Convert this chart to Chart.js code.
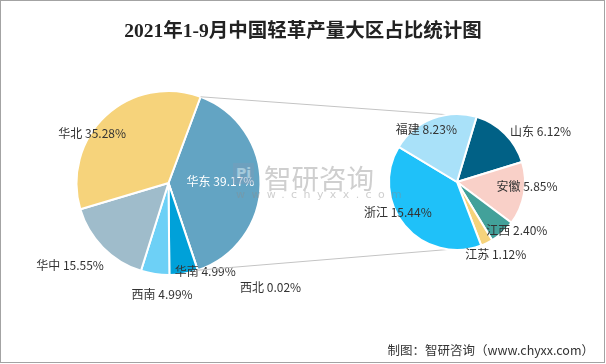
<!DOCTYPE html>
<html>
<head>
<meta charset="utf-8">
<script src="https://cdn.jsdelivr.net/npm/chart.js@4.4.0/dist/chart.umd.min.js"></script>
<style>
    body { margin: 0; background: #fff; }
    #wrap { position: relative; width: 606px; height: 364px; overflow: hidden; }
    #frame { position: absolute; left: 0; top: 0; width: 605px; height: 363px; box-sizing: border-box; border: 1px solid #a3a3a3; }
    canvas { position: absolute; left: 0; top: 0; }
    #title { position: absolute; left: 0; width: 606px; top: 14px; text-align: center;
        font: bold 19.5px "Liberation Serif", "Noto Sans CJK SC", serif; color: #222; }
    #source { position: absolute; right: 12px; top: 340px; font: 12.5px "Noto Sans CJK SC", sans-serif; color: #333; }
    #wm { position: absolute; left: 233px; top: 161px; opacity: 0.42; pointer-events: none; }
    #wm .logo { position: absolute; left: 0; top: 2px; width: 21px; height: 21px; background: #7f9bb8;
        color: #fff; font: bold 14px "DejaVu Sans", sans-serif; text-align: center; line-height: 21px; }
    #wm .name { position: absolute; left: 31px; top: -4px; font: 27.5px "Noto Sans CJK SC", sans-serif; color: #8c8c8c; white-space: nowrap; }
    #wm .url { position: absolute; left: 3px; top: 27px; font: 11px "DejaVu Sans", sans-serif; color: #8c8c8c; letter-spacing: 6.4px; white-space: nowrap; }
</style>
</head>
<body>
<div id="wrap">
    <canvas id="leftPie" width="606" height="364"></canvas>
    <canvas id="rightPie" width="606" height="364"></canvas>
    <div id="wm"><div class="logo">Pi</div><div class="name">智研咨询</div><div class="url">www.chyxx.com</div></div>
    <div id="title">2021年1-9月中国轻革产量大区占比统计图</div>
    <div id="source">制图：智研咨询（www.chyxx.com）</div>
    <div id="frame"></div>
</div>
<script>
// Data
const regions = ['华东', '西北', '华南', '西南', '华中', '华北'];
const regionShare = [39.17, 0.02, 4.99, 4.99, 15.55, 35.28];
const provinces = ['山东', '安徽', '江西', '江苏', '浙江', '福建'];
const provinceShare = [6.12, 5.85, 2.40, 1.12, 15.44, 8.23];

const regionColors = ['#63a4c3', '#1f5f8b', '#00a1d9', '#6dd0f6', '#9fbccb', '#f6d37b'];
const provinceColors = ['#016186', '#f9d0c8', '#42a19a', '#f6d37b', '#1fc1f9', '#a9e1f9'];

// label centre offsets, as a fraction of the radius
const regionLabelPos = [[0.565, -0.02], [1.11, 1.13], [0.40, 0.96], [-0.07, 1.21], [-1.07, 0.90], [-0.83, -0.54]];
const provinceLabelPos = [[1.23, -0.75], [1.03, 0.06], [0.88, 0.71], [0.57, 1.07], [-0.87, 0.45], [-0.45, -0.77]];

function labelPlugin(posList, whiteIdx) {
    return {
        id: 'sliceLabels',
        afterDatasetsDraw(chart) {
            const ctx = chart.ctx;
            const meta = chart.getDatasetMeta(0);
            const labels = chart.data.labels;
            const values = chart.data.datasets[0].data;
            ctx.save();
            ctx.font = '12px "Noto Sans CJK SC", sans-serif';
            ctx.textAlign = 'center';
            ctx.textBaseline = 'middle';
            meta.data.forEach(function(arc, i) {
                const r = arc.outerRadius;
                const x = arc.x + posList[i][0] * r;
                const y = arc.y + posList[i][1] * r;
                ctx.fillStyle = (i === whiteIdx) ? '#ffffff' : '#333333';
                ctx.fillText(labels[i] + ' ' + values[i].toFixed(2) + '%', x, y);
            });
            ctx.restore();
        }
    };
}

const baseOptions = {
    responsive: false,
    animation: false,
    events: [],
    plugins: { legend: { display: false }, tooltip: { enabled: false } }
};

new Chart(document.getElementById('leftPie'), {
    type: 'pie',
    data: {
        labels: regions,
        datasets: [{ data: regionShare, backgroundColor: regionColors, borderColor: '#ffffff', borderWidth: 2 }]
    },
    options: Object.assign({}, baseOptions, {
        rotation: 20.4,
        layout: { padding: { left: 75, right: 344, top: 90, bottom: 88 } }
    }),
    plugins: [labelPlugin(regionLabelPos, 0)]
});

// connector lines from the 华东 slice to the secondary pie
const connectorPlugin = {
    id: 'connectors',
    beforeDatasetsDraw(chart) {
        const left = Chart.getChart('leftPie');
        const src = left.getDatasetMeta(0).data[0];
        const dst = chart.getDatasetMeta(0).data[0];
        const rot = dst.startAngle;     // top edge of the secondary pie
        const rotBottom = -rot;         // mirrored bottom edge
        const ctx = chart.ctx;
        ctx.save();
        ctx.strokeStyle = '#c4c4c4';
        ctx.lineWidth = 1;
        ctx.beginPath();
        ctx.moveTo(src.x + Math.cos(src.startAngle) * src.outerRadius, src.y + Math.sin(src.startAngle) * src.outerRadius);
        ctx.lineTo(dst.x + Math.cos(rot) * dst.outerRadius, dst.y + Math.sin(rot) * dst.outerRadius);
        ctx.moveTo(src.x + Math.cos(src.endAngle) * src.outerRadius, src.y + Math.sin(src.endAngle) * src.outerRadius);
        ctx.lineTo(dst.x + Math.cos(rotBottom) * dst.outerRadius, dst.y + Math.sin(rotBottom) * dst.outerRadius);
        ctx.stroke();
        ctx.restore();
    }
};

new Chart(document.getElementById('rightPie'), {
    type: 'pie',
    data: {
        labels: provinces,
        datasets: [{ data: provinceShare, backgroundColor: provinceColors, borderColor: '#ffffff', borderWidth: 2 }]
    },
    options: Object.assign({}, baseOptions, {
        rotation: 16.7,
        layout: { padding: { left: 388, right: 80, top: 113, bottom: 113 } }
    }),
    plugins: [connectorPlugin, labelPlugin(provinceLabelPos, -1)]
});
</script>
</body>
</html>
